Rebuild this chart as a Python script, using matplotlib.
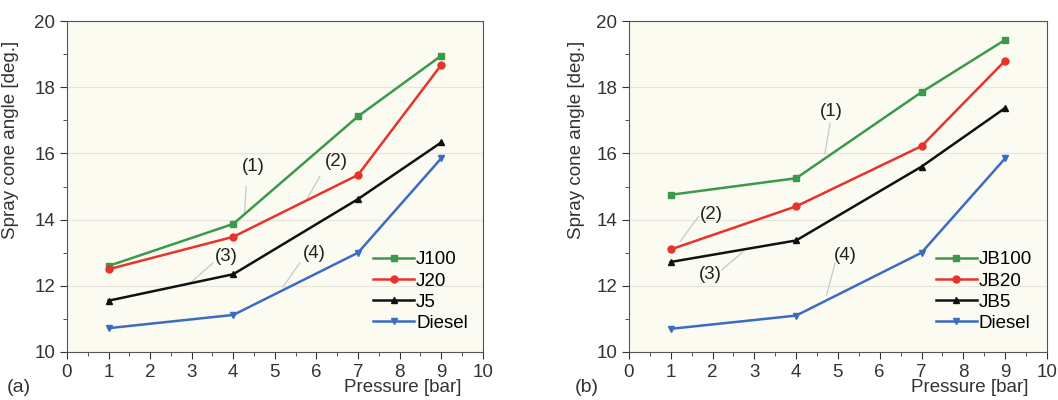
import matplotlib
matplotlib.use("Agg")
import matplotlib.pyplot as plt
from matplotlib.ticker import MultipleLocator

plt.rcParams["font.family"] = ["Liberation Sans", "DejaVu Sans"]

pressure = [1, 4, 7, 9]

# panel (a)
a_j100 = [12.60, 13.87, 17.12, 18.95]
a_j20 = [12.50, 13.48, 15.35, 18.67]
a_j5 = [11.55, 12.35, 14.62, 16.33]
a_diesel = [10.72, 11.12, 13.00, 15.85]
a_names = ["J100", "J20", "J5", "Diesel"]

# panel (b)
b_jb100 = [14.75, 15.25, 17.85, 19.43]
b_jb20 = [13.10, 14.40, 16.22, 18.80]
b_jb5 = [12.72, 13.37, 15.60, 17.37]
b_diesel = [10.70, 11.10, 13.00, 15.85]
b_names = ["JB100", "JB20", "JB5", "Diesel"]

# callouts: label, text pos, line start, line end
a_notes = [("(1)", (4.47, 15.6), (4.31, 15.0), (4.27, 14.2)),
           ("(2)", (6.48, 15.75), (6.08, 15.3), (5.76, 14.59)),
           ("(3)", (3.84, 12.88), (3.51, 12.69), (2.96, 12.08)),
           ("(4)", (5.96, 12.99), (5.60, 12.69), (5.19, 11.96))]
b_notes = [("(1)", (4.85, 17.26), (4.81, 16.91), (4.69, 16.0)),
           ("(2)", (1.98, 14.14), (1.66, 14.09), (1.22, 13.33)),
           ("(3)", (1.94, 12.33), (2.22, 12.48), (2.73, 13.03)),
           ("(4)", (5.17, 12.93), (4.93, 12.68), (4.73, 11.72))]

COLORS = ["#3b9a4a", "#e8322b", "#111111", "#3a6cc0"]
MARKERS = ["s", "o", "^", "v"]
TXT = "#333333"


def panel(ax, series, names, notes, tag, ylab_x, xlab_x, tag_x):
    ax.set_facecolor("#fbfbf2")
    for ys, name, c, m in zip(series, names, COLORS, MARKERS):
        ax.plot(pressure, ys, color=c, marker=m, markersize=5,
                linewidth=1.8, label=name)
    for lbl, tpos, p0, p1 in notes:
        ax.plot([p0[0], p1[0]], [p0[1], p1[1]], color="#c8c8c8",
                linewidth=0.9, zorder=1)
        ax.text(tpos[0], tpos[1], lbl, ha="center", va="center",
                fontsize=13.5, color="#222222")
    ax.set_xlim(0, 10)
    ax.set_ylim(10, 20)
    ax.xaxis.set_major_locator(MultipleLocator(1))
    ax.xaxis.set_minor_locator(MultipleLocator(0.5))
    ax.yaxis.set_major_locator(MultipleLocator(2))
    ax.yaxis.set_minor_locator(MultipleLocator(1))
    ax.tick_params(which="both", direction="out", labelsize=13.5,
                   colors=TXT)
    ax.tick_params(which="major", length=5)
    ax.tick_params(which="minor", length=3)
    ax.grid(True, axis="y", color="#e4e4dc", linewidth=0.8)
    ax.set_axisbelow(True)
    for s in ax.spines.values():
        s.set_color("#555555")
    ax.set_ylabel("Spray cone angle [deg.]", fontsize=13.5, color=TXT)
    ax.yaxis.set_label_coords(ylab_x, 0.64)
    ax.text(xlab_x, -0.083, "Pressure [bar]", transform=ax.transAxes,
            fontsize=13.5, color=TXT, ha="right", va="top")
    ax.text(tag_x, -0.083, tag, transform=ax.transAxes, fontsize=14,
            color=TXT, ha="left", va="top")
    ax.legend(loc="lower right", frameon=False, fontsize=13.5,
              handlelength=2.2, handletextpad=0.1, labelspacing=0.22,
              borderaxespad=0.4, bbox_to_anchor=(1.0, 0.015))


fig = plt.figure(figsize=(10.58, 4.0), dpi=100)
ax1 = fig.add_axes([0.0633, 0.12, 0.393, 0.8275])
ax2 = fig.add_axes([0.5945, 0.12, 0.395, 0.8275])
panel(ax1, [a_j100, a_j20, a_j5, a_diesel], a_names, a_notes, "(a)",
      -0.115, 0.95, -0.144)
panel(ax2, [b_jb100, b_jb20, b_jb5, b_diesel], b_names, b_notes, "(b)",
      -0.105, 0.955, -0.129)
fig.savefig("out.png", dpi=100)
